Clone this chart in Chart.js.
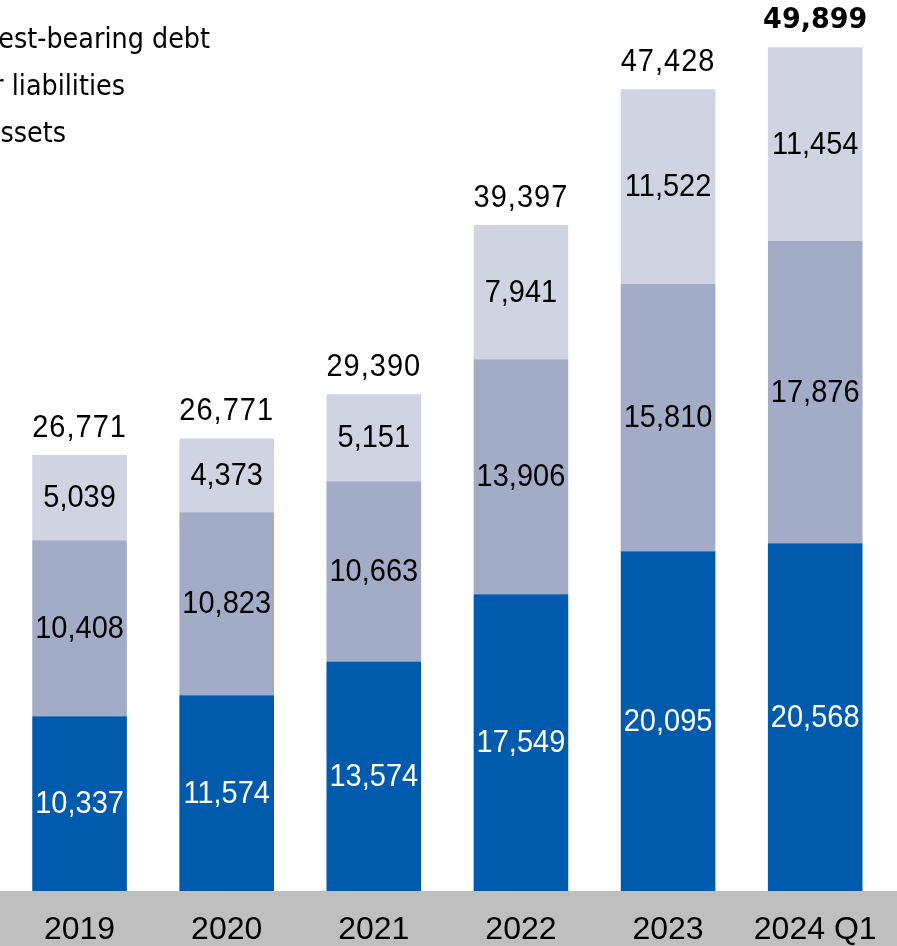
<!DOCTYPE html>
<html>
<head>
<meta charset="utf-8">
<script src="https://cdn.jsdelivr.net/npm/chart.js@4.4.1/dist/chart.umd.min.js"></script>
<style>
  html, body { margin: 0; padding: 0; background: #fff; }
  #wrap { width: 897px; height: 946px; }
</style>
</head>
<body>
<div id="wrap"><canvas id="grafico"></canvas></div>
<script>
// DADOS
const categorias = ["2019", "2020", "2021", "2022", "2023", "2024 Q1"];
const netAssets = [10337, 11574, 13574, 17549, 20095, 20568];
const otherLiabilities = [10408, 10823, 10663, 13906, 15810, 17876];
const interestDebt = [5039, 4373, 5151, 7941, 11522, 11454];
const totais = [26771, 26771, 29390, 39397, 47428, 49899];
const nomes = ["Net assets", "Other liabilities", "Interest-bearing debt"];

const cores = ["#005BAC", "#A2ACC6", "#D0D4E2"];
const corTexto = ["#ffffff", "#000000", "#000000"];

function fmt(v) {
  return v.toLocaleString("en-US");
}

// faixa cinza do eixo x
const faixaCinza = {
  id: "faixaCinza",
  beforeDraw(chart) {
    const ctx = chart.ctx;
    ctx.save();
    ctx.fillStyle = "#BFBFBF";
    ctx.fillRect(0, chart.chartArea.bottom, chart.width, chart.height - chart.chartArea.bottom);
    ctx.restore();
  }
};

// rótulos dos valores
const rotulos = {
  id: "rotulos",
  afterDatasetsDraw(chart) {
    const ctx = chart.ctx;
    const y = chart.scales.y;
    ctx.save();
    ctx.textAlign = "center";
    ctx.textBaseline = "middle";
    chart.data.datasets.forEach((ds, i) => {
      const meta = chart.getDatasetMeta(i);
      meta.data.forEach((bar, j) => {
        ctx.fillStyle = corTexto[i];
        ctx.font = "29px 'Liberation Sans', Arial, sans-serif";
        ctx.save();
        ctx.translate(bar.x, (bar.y + bar.base) / 2 + 1);
        ctx.scale(1, 1.06);
        ctx.fillText(fmt(ds.data[j]), 0, 0);
        ctx.restore();
      });
    });
    // totais
    const meta0 = chart.getDatasetMeta(0);
    meta0.data.forEach((bar, j) => {
      const soma = netAssets[j] + otherLiabilities[j] + interestDebt[j];
      const topo = y.getPixelForValue(soma);
      ctx.fillStyle = "#000";
      if (j === totais.length - 1) {
        ctx.font = "bold 27px 'DejaVu Sans', Verdana, sans-serif";
        ctx.letterSpacing = "0px";
      } else {
        ctx.font = "29px 'Liberation Sans', Arial, sans-serif";
        ctx.letterSpacing = "1px";
      }
      ctx.save();
      ctx.translate(bar.x, topo - 27);
      ctx.scale(1, 1.08);
      ctx.fillText(fmt(totais[j]), 0, 0);
      ctx.restore();
    });
    ctx.restore();
  }
};

// legenda cortada no canto esquerdo (só o fim do texto aparece)
const legenda = {
  id: "legenda",
  afterDraw(chart) {
    const ctx = chart.ctx;
    const fimX = [66, 125, 210];
    ctx.save();
    ctx.fillStyle = "#000";
    ctx.textAlign = "right";
    ctx.textBaseline = "alphabetic";
    ctx.font = "25.5px 'DejaVu Sans', Verdana, sans-serif";
    const ordem = [2, 1, 0];
    ordem.forEach((k, n) => {
      ctx.save();
      ctx.translate(fimX[k], 48 + n * 47);
      ctx.scale(1, 1.08);
      ctx.fillText(nomes[k], 0, 0);
      ctx.restore();
    });
    ctx.restore();
  }
};

const ctx = document.getElementById("grafico");

new Chart(ctx, {
  type: "bar",
  data: {
    labels: categorias,
    datasets: [
      { label: nomes[0], data: netAssets, backgroundColor: cores[0] },
      { label: nomes[1], data: otherLiabilities, backgroundColor: cores[1] },
      { label: nomes[2], data: interestDebt, backgroundColor: cores[2] }
    ]
  },
  options: {
    responsive: true,
    maintainAspectRatio: false,
    animation: false,
    layout: { padding: { left: 6, right: 5, top: 0, bottom: 0 } },
    datasets: {
      bar: { barPercentage: 0.643, categoryPercentage: 1, borderWidth: 0 }
    },
    plugins: {
      legend: { display: false },
      tooltip: { enabled: false }
    },
    scales: {
      x: {
        stacked: true,
        grid: { display: false, drawTicks: false },
        border: { display: false },
        ticks: {
          color: "#000",
          padding: 20,
          font: { family: "'Liberation Sans', Arial, sans-serif", size: 32 }
        },
        afterFit(scale) { scale.height = 55; }
      },
      y: {
        stacked: true,
        display: false,
        min: 0,
        max: 52700
      }
    }
  },
  plugins: [faixaCinza, rotulos, legenda]
});
</script>
</body>
</html>
